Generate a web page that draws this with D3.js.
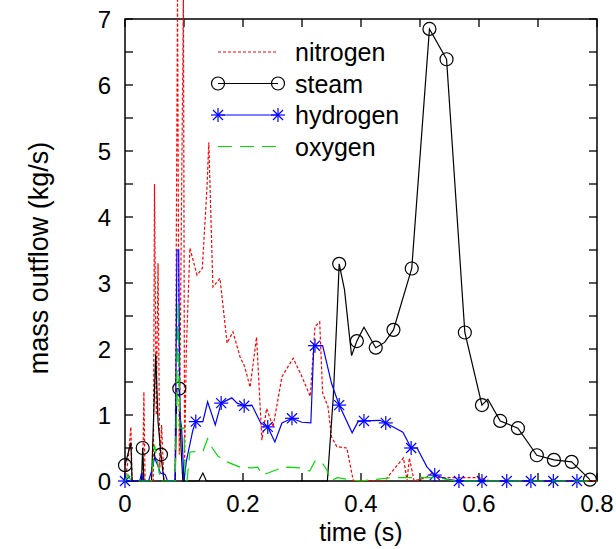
<!DOCTYPE html>
<html>
<head>
<meta charset="utf-8">
<script src="https://cdn.jsdelivr.net/npm/d3@7"></script>
<style>
  body { margin: 0; background: #fff; }
  svg { display: block; font-family: "Liberation Sans", Arial, sans-serif; }
</style>
</head>
<body>
<svg id="chart"></svg>
<script>
// series: [time (s), mass outflow (kg/s)]
var nitrogen = [
  [0, 0], [0.005, 0.3], [0.01, 0.82], [0.012, 0], [0.03, 0], [0.032, 1.35], [0.034, 0],
  [0.048, 0], [0.05, 4.5], [0.053, 1.0], [0.056, 3.3], [0.059, 0.2], [0.062, 0.85], [0.066, 0],
  [0.085, 0], [0.089, 7.4], [0.092, 0.4], [0.099, 7.4], [0.101, 0.3], [0.104, 2.0],
  [0.11, 3.53], [0.122, 3.12], [0.131, 3.22], [0.139, 4.45], [0.142, 5.13], [0.149, 2.94],
  [0.161, 3.07], [0.173, 2.09], [0.183, 2.26], [0.195, 1.88], [0.203, 1.73], [0.212, 1.42],
  [0.223, 2.18], [0.232, 0.62], [0.24, 1.1], [0.251, 0.82], [0.266, 1.58], [0.285, 1.86],
  [0.3, 1.58], [0.314, 1.28], [0.322, 2.34], [0.33, 2.41], [0.335, 1.33], [0.344, 1.13],
  [0.35, 0.67], [0.359, 0.52], [0.376, 0.5], [0.387, 0], [0.44, 0], [0.455, 0.17],
  [0.472, 0.35], [0.478, 0], [0.482, 0.35], [0.49, 0], [0.51, 0.05], [0.52, 0.12],
  [0.53, 0.05], [0.6, 0.05], [0.62, 0], [0.8, 0]
];
var steam = [
  [0, 0.24], [0.01, 0.58], [0.012, 0], [0.028, 0], [0.03, 0.5], [0.032, 0], [0.045, 0],
  [0.052, 1.92], [0.056, 0.9], [0.061, 0.4], [0.066, 0], [0.085, 0], [0.088, 1.4],
  [0.092, 1.4], [0.095, 0.5], [0.098, 0], [0.125, 0], [0.132, 0.12], [0.138, 0],
  [0.343, 0], [0.353, 1.27], [0.36, 2.64], [0.363, 3.29], [0.372, 2.9], [0.384, 1.9],
  [0.393, 2.12], [0.405, 2.33], [0.425, 2.02], [0.44, 2.1], [0.455, 2.29], [0.486, 3.22],
  [0.516, 6.85], [0.545, 6.39], [0.576, 2.25], [0.605, 1.15], [0.615, 1.24], [0.636, 0.91],
  [0.666, 0.8], [0.698, 0.39], [0.727, 0.32], [0.757, 0.29], [0.788, 0.02]
];
var steamMarks = [
  [0, 0.24], [0.03, 0.5], [0.061, 0.4], [0.092, 1.4], [0.363, 3.29], [0.393, 2.12],
  [0.425, 2.02], [0.455, 2.29], [0.486, 3.22], [0.516, 6.85], [0.545, 6.39], [0.576, 2.25],
  [0.605, 1.15], [0.636, 0.91], [0.666, 0.8], [0.698, 0.39], [0.727, 0.32], [0.757, 0.29],
  [0.788, 0.02]
];
var hydrogen = [
  [0, 0], [0.025, 0], [0.028, 0.12], [0.031, 0], [0.04, 0], [0.045, 0.15], [0.05, 0.35],
  [0.055, 0.25], [0.06, 0.12], [0.068, 0.1], [0.072, 0], [0.085, 0], [0.088, 3.5],
  [0.091, 3.5], [0.093, 1.0], [0.096, 0.8], [0.1, 0], [0.104, 0.3], [0.115, 0.77],
  [0.12, 0.9], [0.132, 0.9], [0.14, 1.2], [0.153, 0.85], [0.163, 1.18], [0.181, 1.26],
  [0.19, 1.18], [0.202, 1.14], [0.215, 1.15], [0.23, 0.88], [0.242, 0.82], [0.254, 0.59],
  [0.266, 0.88], [0.283, 0.95], [0.3, 0.89], [0.315, 0.88], [0.32, 2.05], [0.335, 2.05],
  [0.35, 1.48], [0.363, 1.15], [0.385, 0.73], [0.395, 0.9], [0.405, 0.91], [0.432, 0.92],
  [0.442, 0.88], [0.471, 0.74], [0.485, 0.5], [0.495, 0.5], [0.512, 0.21], [0.525, 0.09],
  [0.545, 0.03], [0.566, 0], [0.78, 0]
];
var hydrogenMarks = [
  [0, 0], [0.12, 0.9], [0.163, 1.18], [0.202, 1.14], [0.242, 0.82], [0.283, 0.95],
  [0.322, 2.05], [0.363, 1.15], [0.405, 0.91], [0.442, 0.88], [0.485, 0.5], [0.525, 0.09],
  [0.566, 0], [0.605, 0], [0.647, 0], [0.688, 0], [0.726, 0], [0.766, 0]
];
var oxygen = [
  [0, 0], [0.005, 0.1], [0.01, 0], [0.045, 0], [0.05, 0.55], [0.055, 0.3], [0.06, 0],
  [0.085, 0], [0.088, 1.5], [0.09, 2.7], [0.093, 0.8], [0.1, 0.8], [0.102, 0], [0.105, 0],
  [0.11, 0.44], [0.132, 0.45], [0.14, 0.64], [0.148, 0.5], [0.157, 0.38], [0.173, 0.29],
  [0.195, 0.21], [0.215, 0.2], [0.225, 0.21], [0.233, 0.09], [0.257, 0.17], [0.275, 0.21],
  [0.296, 0.2], [0.313, 0.15], [0.322, 0.3], [0.333, 0.29], [0.342, 0.17], [0.348, 0],
  [0.36, 0.05], [0.38, 0.02], [0.4, 0], [0.45, 0.05], [0.5, 0.05], [0.53, 0.05], [0.56, 0],
  [0.8, 0]
];
var seriesNames = ['nitrogen', 'steam', 'hydrogen', 'oxygen'];
var xTickLabels = [0, 0.2, 0.4, 0.6, 0.8];
var yTickLabels = [0, 1, 2, 3, 4, 5, 6, 7];

var width = 616;
var height = 549;

var svg = d3.select('#chart')
    .attr('width', width)
    .attr('height', height);

var x = d3.scaleLinear().domain([0, 0.8]).range([125, 597]);
var y = d3.scaleLinear().domain([0, 7]).range([481, 19]);

var line = d3.line()
    .x(function(d) { return x(d[0]); })
    .y(function(d) { return y(d[1]); });

// styles per series, same order as the legend
var styles = {
    nitrogen: {color: '#ff0000', dash: '3,2', data: nitrogen, marks: null},
    steam: {color: '#000000', dash: null, data: steam, marks: steamMarks},
    hydrogen: {color: '#0000ff', dash: null, data: hydrogen, marks: hydrogenMarks},
    oxygen: {color: '#00dd00', dash: '14,8', data: oxygen, marks: null}
};

function drawMark(g, name, cx, cy) {
    var s = styles[name];
    if (name === 'steam') {
        g.append('circle')
            .attr('cx', cx).attr('cy', cy).attr('r', 6.5)
            .attr('fill', 'none')
            .attr('stroke', s.color)
            .attr('stroke-width', 1.2);
    } else if (name === 'hydrogen') {
        var r = 7;
        var a = r * 0.72;
        var segs = [[0, -r, 0, r], [-r, 0, r, 0], [-a, -a, a, a], [-a, a, a, -a]];
        segs.forEach(function(q) {
            g.append('line')
                .attr('x1', cx + q[0]).attr('y1', cy + q[1])
                .attr('x2', cx + q[2]).attr('y2', cy + q[3])
                .attr('stroke', s.color)
                .attr('stroke-width', 1.2);
        });
    }
}

// frame
svg.append('rect')
    .attr('x', x(0)).attr('y', y(7))
    .attr('width', x(0.8) - x(0)).attr('height', y(0) - y(7))
    .attr('fill', 'none')
    .attr('stroke', '#000')
    .attr('stroke-width', 1.5);

// inward ticks on all four sides
var xt = d3.range(0, 9).map(function(i) { return i / 10; });
var yt = d3.range(0, 15).map(function(i) { return i / 2; });
var tickG = svg.append('g').attr('stroke', '#000').attr('stroke-width', 1.3);
xt.forEach(function(t) {
    tickG.append('line').attr('x1', x(t)).attr('x2', x(t)).attr('y1', y(0)).attr('y2', y(0) - 8);
    tickG.append('line').attr('x1', x(t)).attr('x2', x(t)).attr('y1', y(7)).attr('y2', y(7) + 8);
});
yt.forEach(function(v) {
    tickG.append('line').attr('x1', x(0)).attr('x2', x(0) + 8).attr('y1', y(v)).attr('y2', y(v));
    tickG.append('line').attr('x1', x(0.8)).attr('x2', x(0.8) - 8).attr('y1', y(v)).attr('y2', y(v));
});

// tick labels
svg.append('g')
    .selectAll('text')
    .data(xTickLabels)
    .enter().append('text')
    .attr('x', function(d) { return x(d); })
    .attr('y', 512)
    .attr('text-anchor', 'middle')
    .attr('font-size', 24)
    .text(function(d) { return d; });

svg.append('g')
    .selectAll('text')
    .data(yTickLabels)
    .enter().append('text')
    .attr('x', 111)
    .attr('y', function(d) { return y(d) + 8.5; })
    .attr('text-anchor', 'end')
    .attr('font-size', 24)
    .text(function(d) { return d; });

// axis titles
svg.append('text')
    .attr('x', 361)
    .attr('y', 541)
    .attr('text-anchor', 'middle')
    .attr('font-size', 25)
    .text('time (s)');

svg.append('text')
    .attr('transform', 'translate(48,258) rotate(-90)')
    .attr('text-anchor', 'middle')
    .attr('font-size', 27)
    .text('mass outflow (kg/s)');

// curves
seriesNames.forEach(function(name) {
    var s = styles[name];
    var g = svg.append('g').attr('class', 'series-' + name);
    g.append('path')
        .datum(s.data)
        .attr('d', line)
        .attr('fill', 'none')
        .attr('stroke', s.color)
        .attr('stroke-width', 1.2)
        .attr('stroke-dasharray', s.dash);
    if (s.marks) {
        s.marks.forEach(function(d) {
            drawMark(g, name, x(d[0]), y(d[1]));
        });
    }
});

// legend
var legendG = svg.append('g');
seriesNames.forEach(function(name, i) {
    var s = styles[name];
    var ly = 52 + i * 31.5;
    legendG.append('line')
        .attr('x1', 218).attr('x2', 278)
        .attr('y1', ly).attr('y2', ly)
        .attr('stroke', s.color)
        .attr('stroke-width', 1.2)
        .attr('stroke-dasharray', s.dash);
    if (s.marks) {
        drawMark(legendG, name, 218, ly);
        drawMark(legendG, name, 278, ly);
    }
    legendG.append('text')
        .attr('x', 295)
        .attr('y', ly + 9)
        .attr('font-size', 25)
        .text(name);
});
</script>
</body>
</html>
